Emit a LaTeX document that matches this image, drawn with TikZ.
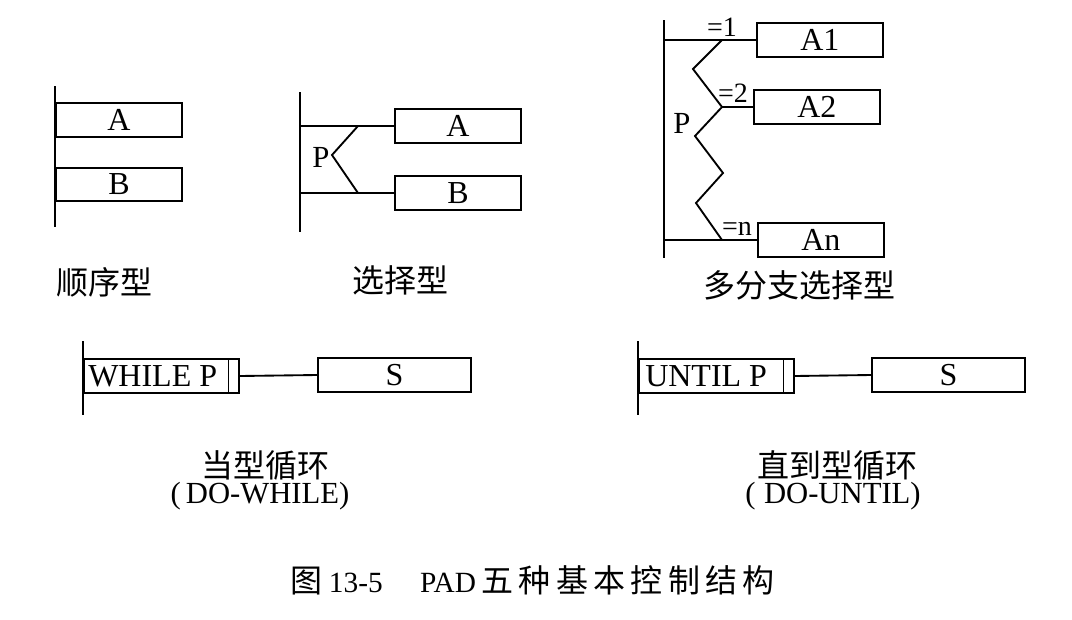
\documentclass[tikz,border=0pt]{standalone}
\usepackage{fontspec}
\setmainfont{Liberation Serif}
\newfontfamily\cjk{Noto Sans CJK SC}
\usetikzlibrary{calc}
\begin{document}
\begin{tikzpicture}[x=0.75pt,y=-0.75pt,
  ln/.style={line width=1.4pt},
  vl/.style={line width=1.8pt},
  bx/.style={draw,line width=1.4pt,minimum width=94.5pt,minimum height=25pt,inner sep=0pt,
    font=\fontsize{24}{26}\selectfont},
  lbl/.style={inner sep=0pt,font=\fontsize{24}{26}\selectfont},
  lat/.style={inner sep=0pt,font=\fontsize{23}{26}\selectfont},
  eq/.style={inner sep=0pt,font=\fontsize{21}{23}\selectfont}]
\useasboundingbox (0,0) rectangle (1072,619);

% sequence
\coordinate (s1) at (55,86);
\coordinate (s2) at (55,227);
\draw[vl] (s1) -- (s2);
\node[bx,anchor=west] (sa) at (55,120) {A};
\node[bx,anchor=west] (sb) at (55,184.5) {B};
\node[lbl] (t1) at (104,282) {\cjk 顺序型};

% selection
\coordinate (p1) at (300,92);
\coordinate (p2) at (300,232);
\draw[vl] (p1) -- (p2);
\node[bx,anchor=west] (pa) at (394,126) {A};
\node[bx,anchor=west] (pb) at (394,193) {B};
\coordinate (pu) at (300,126);
\coordinate (pd) at (300,193);
\coordinate (ju) at (358,126);
\coordinate (jd) at (358,193);
\coordinate (jm) at (332,155);
\draw[ln] (pu) -- (pa.west);
\draw[ln] (pd) -- (pb.west);
\draw[ln] (ju) -- (jm) -- (jd);
\node[lat] (pp) at (321,157) {P};
\node[lbl] (t2) at (400,280) {\cjk 选择型};

% multi-branch
\coordinate (m1) at (664,20);
\coordinate (m2) at (664,258);
\draw[vl] (m1) -- (m2);
\node[bx,anchor=west] (a1) at (756,40) {A1};
\node[bx,anchor=west] (a2) at (753,107) {A2};
\node[bx,anchor=west] (an) at (757,240) {An};
\coordinate (mu) at (664,40);
\coordinate (md) at (664,240);
\coordinate (z1) at (722,40);
\coordinate (z2) at (693,69);
\coordinate (z3) at (722,107);
\coordinate (z4) at (695,136);
\coordinate (z5) at (723,173);
\coordinate (z6) at (696,203);
\coordinate (z7) at (722,240);
\draw[ln] (mu) -- (a1.west);
\draw[ln] (md) -- (an.west);
\draw[ln] (z3) -- (a2.west);
\draw[ln] (z1) -- (z2) -- (z3) -- (z4) -- (z5) -- (z6) -- (z7);
\node[eq] (e1) at (722,27) {=1};
\node[eq] (e2) at (733,93) {=2};
\node[eq] (e3) at (737,229) {=n};
\node[lat] (mp) at (682,123) {P};
\node[lbl] (t3) at (799,285) {\cjk 多分支选择型};

% while
\coordinate (w1) at (83,341);
\coordinate (w2) at (83,415);
\draw[vl] (w1) -- (w2);
\node[bx,anchor=west,minimum width=116pt] (wb) at (83,376) {};
\node[inner sep=0pt,anchor=west,font=\fontsize{24}{26}\selectfont] (wt) at (88,376) {WHILE P};
\draw[ln] ($(wb.north east)+(-11,0)$) -- ($(wb.south east)+(-11,0)$);
\node[bx,anchor=west,minimum width=114.75pt] (ws) at (317,375) {S};
\draw[ln] (wb.east) -- (ws.west);
\node[lbl] (t4) at (265,465) {\cjk 当型循环};
\node[lat] (t5) at (260,496) {(\,DO-WHILE)};

% until
\coordinate (u1) at (638,341);
\coordinate (u2) at (638,415);
\draw[vl] (u1) -- (u2);
\node[bx,anchor=west,minimum width=116pt] (ub) at (638,376) {};
\node[inner sep=0pt,anchor=west,font=\fontsize{24}{26}\selectfont] (ut) at (645,376) {UNTIL P};
\draw[ln] ($(ub.north east)+(-11,0)$) -- ($(ub.south east)+(-11,0)$);
\node[bx,anchor=west,minimum width=115pt] (us) at (871,375) {S};
\draw[ln] (ub.east) -- (us.west);
\node[lbl] (t6) at (837,465) {\cjk 直到型循环};
\node[lat] (t7) at (833,496) {(\;DO-UNTIL)};

% caption
\node[inner sep=0pt,anchor=west,font=\fontsize{22}{26}\selectfont] (cap) at (290,580)
  {{\fontsize{24}{28}\selectfont\cjk 图}\hspace{5pt}13-5\hspace{28pt}PAD\hspace{4pt}{\fontsize{24}{28}\selectfont\cjk 五\hspace{4pt}种\hspace{4pt}基\hspace{4pt}本\hspace{4pt}控\hspace{4pt}制\hspace{4pt}结\hspace{4pt}构}};
\end{tikzpicture}
\end{document}
